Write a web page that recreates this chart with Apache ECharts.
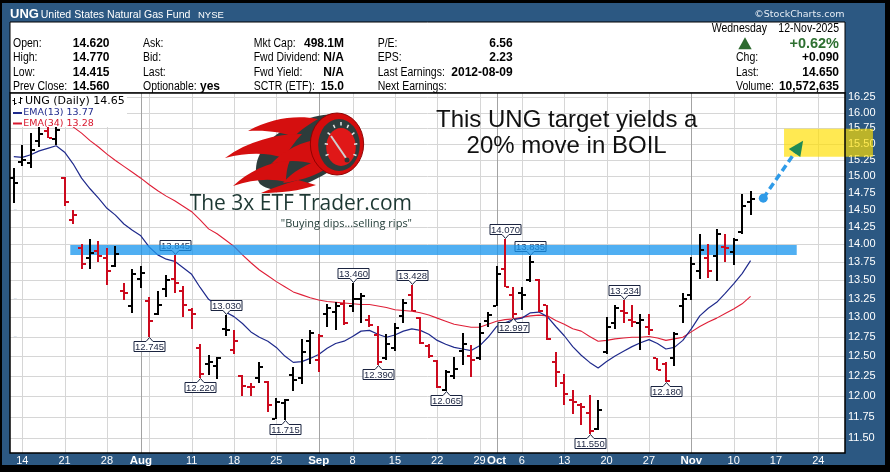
<!DOCTYPE html>
<html><head><meta charset="utf-8">
<script src="https://cdn.jsdelivr.net/npm/echarts@6/dist/echarts.min.js"></script>
<style>html,body{margin:0;padding:0;background:#000;}#c{width:890px;height:472px;}</style>
</head><body><div id="c"></div>
<script>
// ---------------- DATA ----------------
const dates = [
'07-11',
'07-14','07-15','07-16','07-17','07-18',
'07-21','07-22','07-23','07-24','07-25',
'07-28','07-29','07-30','07-31','08-01',
'08-04','08-05','08-06','08-07','08-08',
'08-11','08-12','08-13','08-14','08-15',
'08-18','08-19','08-20','08-21','08-22',
'08-25','08-26','08-27','08-28','08-29',
'09-02','09-03','09-04','09-05',
'09-08','09-09','09-10','09-11','09-12',
'09-15','09-16','09-17','09-18','09-19',
'09-22','09-23','09-24','09-25','09-26',
'09-29','09-30','10-01','10-02','10-03',
'10-06','10-07','10-08','10-09','10-10',
'10-13','10-14','10-15','10-16','10-17',
'10-20','10-21','10-22','10-23','10-24',
'10-27','10-28','10-29','10-30','10-31',
'11-03','11-04','11-05','11-06','11-07',
'11-10','11-11','11-12','11-13','11-14',
'11-17','11-18','11-19','11-20','11-21',
'11-24','11-25','11-26','11-28'];

const openP = [14.97,15.22,15.20,15.55,15.70,15.58,14.97,14.35,13.95,13.80,
13.90,13.80,13.70,13.35,13.15,13.52,13.22,13.05,13.38,13.52,
13.35,13.10,12.60,12.40,12.38,12.85,12.58,12.25,12.12,12.22,
12.17,11.73,11.92,12.26,12.22,12.69,12.45,13.05,13.07,13.18,
13.15,13.25,12.96,12.77,12.48,12.60,13.02,13.30,12.99,12.63,
12.44,12.08,12.25,12.56,12.50,12.47,12.95,13.15,13.65,13.30,
13.33,13.50,13.50,13.16,12.43,12.16,11.95,11.90,11.80,11.61,
12.55,12.92,13.09,12.96,12.93,12.88,12.47,12.40,12.47,13.15,
13.30,13.62,13.80,13.83,13.96,13.89,14.17,14.62];
const highP = [15.12,15.48,15.67,15.85,15.80,15.90,14.99,14.49,14.00,14.07,
14.05,13.95,13.97,13.46,13.66,13.69,13.27,13.35,13.57,13.845,
13.42,13.13,12.65,12.51,12.49,13.03,12.83,12.26,12.16,12.42,
12.19,11.98,11.97,12.36,12.72,12.83,12.78,13.18,13.21,13.23,
13.46,13.32,13.03,12.89,12.78,12.93,13.24,13.428,13.00,12.65,
12.45,12.32,12.49,12.79,12.64,12.92,13.07,13.70,14.07,13.41,
13.41,13.835,13.51,13.17,12.55,12.27,12.08,11.92,12.02,11.95,
13.00,13.16,13.234,13.17,13.05,13.05,12.48,12.43,12.81,13.32,
13.82,14.15,14.00,14.22,14.15,14.09,14.73,14.77];
const lowP = [14.60,15.15,15.12,15.45,15.59,15.48,14.55,14.29,13.66,13.66,
13.75,13.44,13.68,13.23,13.06,13.39,12.745,13.03,13.27,13.33,
13.00,12.85,12.22,12.26,12.21,12.76,12.53,12.00,12.00,12.16,
11.81,11.73,11.715,12.06,12.15,12.40,12.30,12.88,12.83,12.90,
13.07,12.93,12.87,12.39,12.45,12.57,12.93,13.08,12.65,12.47,
12.10,12.065,12.21,12.39,12.24,12.45,12.87,13.15,13.40,12.997,
13.10,13.47,13.07,12.70,12.11,11.90,11.79,11.66,11.55,11.60,
12.53,12.85,12.92,12.87,12.58,12.77,12.32,12.18,12.37,12.92,
13.23,13.52,13.53,13.49,13.75,13.71,14.15,14.415];
const closeP = [14.89,15.25,15.40,15.65,15.60,15.72,14.62,14.42,13.72,13.88,
13.84,13.62,13.86,13.32,13.58,13.60,12.95,13.16,13.50,13.46,
13.17,13.05,12.28,12.42,12.47,12.83,12.69,12.13,12.11,12.36,
11.89,11.93,11.95,12.20,12.55,12.80,12.76,13.12,13.15,12.93,
13.24,13.28,12.90,12.42,12.65,12.86,13.19,13.09,12.67,12.50,
12.11,12.30,12.34,12.66,12.45,12.79,13.03,13.58,13.41,13.05,
13.30,13.75,13.08,12.72,12.30,12.03,11.93,11.87,11.58,11.84,
12.88,13.12,13.06,12.94,12.96,12.84,12.33,12.19,12.78,13.25,
13.72,13.92,13.62,14.15,13.95,14.06,14.56,14.65];

const ema13 = [15.30,15.29,15.33,15.39,15.43,15.47,15.37,15.19,14.97,14.81,
14.67,14.52,14.42,14.29,14.20,14.12,13.96,13.85,13.79,13.76,
13.67,13.58,13.40,13.24,13.16,13.07,13.01,12.92,12.81,12.74,
12.69,12.61,12.50,12.42,12.43,12.47,12.52,12.60,12.66,12.69,
12.75,12.82,12.83,12.78,12.74,12.77,12.82,12.85,12.83,12.78,
12.70,12.65,12.61,12.59,12.57,12.63,12.74,12.88,12.93,12.97,
12.99,13.06,13.07,13.01,12.88,12.76,12.62,12.51,12.42,12.35,
12.43,12.50,12.56,12.62,12.67,12.71,12.66,12.59,12.61,12.70,
12.85,13.02,13.12,13.20,13.32,13.45,13.59,13.77];
const ema34 = [16.10,16.06,16.03,16.00,15.96,15.93,15.85,15.77,15.67,15.55,
15.45,15.34,15.24,15.15,15.06,14.97,14.87,14.78,14.70,14.63,
14.55,14.47,14.35,14.22,14.15,14.06,13.97,13.85,13.74,13.64,
13.56,13.48,13.41,13.34,13.30,13.26,13.23,13.21,13.20,13.19,
13.18,13.17,13.17,13.15,13.13,13.10,13.09,13.08,13.06,13.03,
12.99,12.95,12.91,12.89,12.87,12.87,12.91,12.95,12.97,12.98,
13.00,13.02,13.03,13.02,12.96,12.91,12.85,12.82,12.75,12.69,
12.70,12.72,12.73,12.74,12.74,12.75,12.73,12.70,12.72,12.74,
12.81,12.88,12.94,12.99,13.05,13.11,13.18,13.28];

const yTicks = [11.5,11.75,12,12.25,12.5,12.75,13,13.25,13.5,13.75,14,14.25,14.5,14.75,15,15.25,15.5,15.75,16,16.25];
const xTickDates = ['07-14','07-21','07-28','08-01','08-11','08-18','08-25','09-02','09-08','09-15','09-22','09-29','10-01','10-06','10-13','10-20','10-27','11-03','11-10','11-17','11-24'];
const xTickText  = ['14','21','28','Aug','11','18','25','Sep','8','15','22','29','Oct','6','13','20','27','Nov','10','17','24'];
const monthNames = ['Aug','Sep','Oct','Nov'];
const weekLineDates = ['07-14','07-21','07-28','08-04','08-11','08-18','08-25','09-08','09-15','09-22','09-29','10-06','10-13','10-20','10-27','11-10','11-17','11-24'];
const monthLineDates = ['08-01','09-02','10-01','11-03'];

const calloutDates  = ['08-04','08-07','08-12','08-15','08-26','09-08','09-11','09-17','09-23','10-02','10-03','10-07','10-16','10-22','10-29'];
const calloutValues = [12.745,13.845,12.220,13.030,11.715,13.460,12.390,13.428,12.065,14.070,12.997,13.835,11.550,13.234,12.180];
const calloutSide   = [-1,1,-1,1,-1,1,-1,1,-1,1,-1,1,-1,1,-1]; // 1 = high (box above), -1 = low (box below)

const supportBand = [13.85, 13.99];
const targetZone = [15.30, 15.74];
const arrowFrom = [88.5, 14.67];   // [bar index, price]
const arrowTo   = [93.2, 15.55];

// ---------------- SETUP ----------------
const X_MIN = -0.45, X_MAX = 98.15, Y_MIN = 11.33, Y_MAX = 16.32;
const idx = d => dates.indexOf(d);
const F_SANS = "'Liberation Sans', Arial, sans-serif";
const F_DV = "'DejaVu Sans', Verdana, sans-serif";
const xTickIdx = xTickDates.map(idx);

const chart = echarts.init(document.getElementById('c'), null, {renderer: 'canvas', width: 890, height: 472});

function T(x, y, text, font, fill, align, z, sx) {
  return {type: 'text', x: x, y: y, z: z || 60, silent: true, scaleX: sx || 1,
    style: {text: text, font: font, fill: fill || '#000', textAlign: align || 'left', textVerticalAlign: 'middle'}};
}

const LBL = "12.5px " + F_SANS, LSX = 0.84;
const VAL = "bold 12px " + F_SANS;
const rows = [43.5, 58, 72.5, 87];
const g = [];
// frame
g.push({type: 'rect', z: -10, shape: {x: 2, y: 3, width: 883, height: 462}, style: {fill: '#2c5882'}});
g.push({type: 'rect', z: -9, shape: {x: 10, y: 22, width: 835, height: 71}, style: {fill: '#fff', stroke: '#000', lineWidth: 1}});
g.push({type: 'rect', z: -9, shape: {x: 10, y: 93, width: 835, height: 360}, style: {fill: '#fff'}});
g.push({type: 'rect', z: 50, silent: true, shape: {x: 10, y: 93, width: 835, height: 360}, style: {fill: 'none', stroke: '#000', lineWidth: 1.5}});
// title
g.push(T(10, 14.5, 'UNG', "bold 13px " + F_SANS, '#fff'));
g.push(T(40.7, 14.5, 'United States Natural Gas Fund', "11px " + F_SANS, '#fff', 'left', 60, 0.96));
g.push(T(198, 15, 'NYSE', "9.5px " + F_SANS, '#fff'));
g.push(T(844.5, 15, '\u00A9StockCharts.com', "9.5px " + F_DV, '#e6edf5', 'right'));
// header stats
[['Open:', '14.620'], ['High:', '14.770'], ['Low:', '14.415'], ['Prev Close:', '14.560']].forEach((r, k) => {
  g.push(T(13, rows[k], r[0], LBL, '#000', 'left', 60, LSX)); g.push(T(109.5, rows[k], r[1], VAL, '#000', 'right'));
});
['Ask:', 'Bid:', 'Last:', 'Optionable:'].forEach((s, k) => g.push(T(143, rows[k], s, LBL, '#000', 'left', 60, LSX)));
g.push(T(200, rows[3], 'yes', VAL));
[['Mkt Cap:', '498.1M'], ['Fwd Dividend:', 'N/A'], ['Fwd Yield:', 'N/A'], ['SCTR (ETF):', '15.0']].forEach((r, k) => {
  g.push(T(253.7, rows[k], r[0], LBL, '#000', 'left', 60, LSX)); g.push(T(344, rows[k], r[1], VAL, '#000', 'right'));
});
[['P/E:', '6.56'], ['EPS:', '2.23'], ['Last Earnings:', '2012-08-09'], ['Next Earnings:', '']].forEach((r, k) => {
  g.push(T(377.7, rows[k], r[0], LBL, '#000', 'left', 60, LSX)); if (r[1]) g.push(T(512.7, rows[k], r[1], VAL, '#000', 'right'));
});
g.push(T(711.7, 29, 'Wednesday', LBL, '#000', 'left', 60, LSX));
g.push(T(839, 29, '12-Nov-2025', LBL, '#000', 'right', 60, LSX));
g.push({type: 'polygon', z: 60, shape: {points: [[738.3, 49.3], [751.7, 49.3], [745, 37.3]]}, style: {fill: '#2d6a2f'}});
g.push(T(839, 43.5, '+0.62%', "bold 14.5px " + F_SANS, '#2e7031', 'right'));
[['Chg:', '+0.090'], ['Last:', '14.650'], ['Volume:', '10,572,635']].forEach((r, k) => {
  g.push(T(736, rows[k + 1], r[0], LBL, '#000', 'left', 60, LSX)); g.push(T(839, rows[k + 1], r[1], VAL, '#000', 'right'));
});
// legend
g.push({type: 'rect', z: 30, silent: true, shape: {x: 11, y: 94, width: 116, height: 33}, style: {fill: '#fff'}});
[[14.5, 98, 14.5, 105], [12.5, 100.5, 14.5, 100.5], [14.5, 103.5, 16.5, 103.5], [20.5, 97, 20.5, 104], [18.5, 102.5, 20.5, 102.5], [20.5, 98.5, 22.5, 98.5]].forEach(s =>
  g.push({type: 'line', z: 31, shape: {x1: s[0], y1: s[1], x2: s[2], y2: s[3]}, style: {stroke: '#000', lineWidth: 1}}));
g.push(T(25, 101.5, 'UNG (Daily) 14.65', "11px " + F_DV, '#000', 'left', 31));
g.push({type: 'line', z: 31, shape: {x1: 13, y1: 113, x2: 22, y2: 113}, style: {stroke: '#1f2a8c', lineWidth: 2}});
g.push(T(23.3, 113, 'EMA(13) 13.77', "9.5px " + F_DV, '#1f2a8c', 'left', 31));
g.push({type: 'line', z: 31, shape: {x1: 13, y1: 123.5, x2: 22, y2: 123.5}, style: {stroke: '#d8182e', lineWidth: 2}});
g.push(T(23.3, 123.5, 'EMA(34) 13.28', "9.5px " + F_DV, '#d8182e', 'left', 31));
// logo text
g.push(T(412, 204.5, 'The 3x ETF Trader.com', "21px 'Open Sans', " + F_SANS, '#1d3833', 'right', 25));
g.push(T(412, 223.5, '"Buying dips...selling rips"', "11px 'Open Sans', " + F_SANS, '#1d3833', 'right', 25));
// commentary
g.push(T(566.7, 120, 'This UNG target yields a', "24px " + F_SANS, '#111', 'center', 26));
g.push(T(566.6, 146.7, '20% move in BOIL', "24px " + F_SANS, '#111', 'center', 26));

// logo artwork (pixel drawing, not data)
function logoElements() {
  const dark = '#2d3c3b', red = '#d50f0f', els = [];
  els.push({type: 'path', shape: {pathData: 'M338,114 C312,114 288,124 270,140 C256,154 252,172 260,184 C270,193 292,191 312,181 C330,172 350,160 358,146 Z'}, style: {fill: dark}});
  ['M318,119 C296,115 272,118 248,131 C266,130 282,132 294,137 C299,131 308,125 318,119 Z',
   'M302,134 C276,134 248,141 225,158 C249,152 268,153 284,158 C289,150 295,141 302,134 Z',
   'M290,160 C268,162 248,172 233,186 C253,179 271,178 286,182 C286,174 287,167 290,160 Z',
   'M298,180 C284,184 272,188 261,193 C280,193 300,191 316,185 Z',
   'M322,139 C302,141 284,150 271,164 C285,160 300,160 314,164 Z',
   'M324,158 C306,164 292,172 283,183 C298,181 312,177 324,170 Z'].forEach(p =>
    els.push({type: 'path', shape: {pathData: p}, style: {fill: red}}));
  els.push({type: 'circle', x: 337, y: 144, scaleX: 0.86, shape: {cx: 0, cy: 0, r: 31}, style: {fill: '#d40c0c', stroke: '#8a0000', lineWidth: 1}});
  els.push({type: 'circle', x: 339, y: 145, scaleX: 0.8, shape: {cx: 0, cy: 0, r: 26}, style: {fill: dark}});
  els.push({type: 'circle', x: 341, y: 147, scaleX: 0.78, shape: {cx: 0, cy: 0, r: 19}, style: {fill: '#e01818'}});
  for (let a = -200; a <= 20; a += 27.5) {
    const r = a * Math.PI / 180;
    els.push({type: 'line', shape: {x1: 341 + Math.cos(r) * 16.5 * 0.8, y1: 147 + Math.sin(r) * 21.5, x2: 341 + Math.cos(r) * 20.5 * 0.8, y2: 147 + Math.sin(r) * 25}, style: {stroke: '#e8e8e8', lineWidth: 1.5}});
  }
  els.push({type: 'line', shape: {x1: 331, y1: 136, x2: 346, y2: 158}, style: {stroke: '#cfcfcf', lineWidth: 2}});
  els.push({type: 'circle', shape: {cx: 347, cy: 160, r: 2.5}, style: {fill: '#333'}});
  return els;
}

// gridline specs: [x, y, kind(0=horizontal,1=vertical), dark]
const gridData = [];
yTicks.forEach(v => gridData.push([X_MIN, v, 0, 0]));
weekLineDates.forEach(d => gridData.push([idx(d), Y_MIN, 1, 0]));
monthLineDates.forEach(d => gridData.push([idx(d), Y_MIN, 1, 1]));

const option = {
  backgroundColor: '#000',
  animation: false,
  textStyle: {fontFamily: F_SANS},
  grid: {left: 10, right: 45, top: 93, bottom: 19, containLabel: false, outerBoundsMode: 'none'},
  xAxis: {
    type: 'value', min: X_MIN, max: X_MAX,
    axisLine: {show: false}, axisTick: {show: false}, splitLine: {show: false},
    axisLabel: {
      customValues: xTickIdx, margin: 2, color: '#fff', fontSize: 11, fontFamily: F_SANS,
      formatter: v => { const k = xTickIdx.indexOf(Math.round(v)); const t = k >= 0 ? xTickText[k] : ''; return monthNames.indexOf(t) >= 0 ? '{m|' + t + '}' : t; },
      rich: {m: {fontWeight: 'bold', fontSize: 11.5, color: '#fff', fontFamily: F_SANS}}
    }
  },
  yAxis: {
    type: 'log', logBase: 10, min: Y_MIN, max: Y_MAX, position: 'right',
    axisLine: {show: false}, splitLine: {show: false},
    axisTick: {show: true, customValues: yTicks, length: 3, lineStyle: {color: '#dfe6ee'}},
    axisLabel: {customValues: yTicks, formatter: v => Number(v).toFixed(2), color: '#fff', fontSize: 11, margin: 3, fontFamily: F_SANS}
  },
  graphic: {elements: g},
  series: [
    { // gridlines
      type: 'custom', z: 1, silent: true, clip: true,
      data: gridData, encode: {x: 0, y: 1},
      renderItem: (p, api) => {
        const kind = api.value(2), dk = api.value(3);
        let a, b;
        if (kind === 0) { a = api.coord([X_MIN, api.value(1)]); b = api.coord([X_MAX, api.value(1)]); const y = Math.round(a[1]) + 0.5; a[1] = y; b[1] = y; }
        else { a = api.coord([api.value(0), Y_MAX]); b = api.coord([api.value(0), Y_MIN]); const x = Math.round(a[0]) + 0.5; a[0] = x; b[0] = x; }
        return {type: 'line', shape: {x1: a[0], y1: a[1], x2: b[0], y2: b[1]}, style: {stroke: dk ? '#a3a3a3' : '#d6d6d6', lineWidth: 1}};
      }
    },
    {
      type: 'line', z: 3, name: 'EMA(34)', data: ema34.map((v, i) => [i, v]), showSymbol: false, silent: true,
      lineStyle: {color: '#df1f37', width: 1.1}
    },
    {
      type: 'line', z: 3, name: 'EMA(13)', data: ema13.map((v, i) => [i, v]), showSymbol: false, silent: true,
      lineStyle: {color: '#1f2a8c', width: 1.2}
    },
    { // high / low callouts
      type: 'custom', z: 4, silent: true, clip: false,
      data: calloutDates.map((d, k) => [idx(d), calloutValues[k], calloutSide[k]]),
      encode: {x: 0, y: 1},
      renderItem: (p, api) => {
        const v = api.value(1), side = api.value(2);
        const pt = api.coord([api.value(0), v]);
        const x = Math.round(pt[0]) + 0.5, w = 31, h = 10, ph = 4;
        let pts, ty;
        if (side > 0) {
          const tip = Math.round(pt[1]) - 0.5, yb = tip - ph, yt = yb - h;
          pts = [[x - w / 2, yt], [x + w / 2, yt], [x + w / 2, yb], [x + 3.5, yb], [x, tip], [x - 3.5, yb], [x - w / 2, yb]];
          ty = (yt + yb) / 2 + 0.5;
        } else {
          const tip = Math.round(pt[1]) + 0.5, yt = tip + ph, yb = yt + h;
          pts = [[x - w / 2, yt], [x - 3.5, yt], [x, tip], [x + 3.5, yt], [x + w / 2, yt], [x + w / 2, yb], [x - w / 2, yb]];
          ty = (yt + yb) / 2 + 0.5;
        }
        return {type: 'group', children: [
          {type: 'polygon', shape: {points: pts}, style: {fill: '#fff', stroke: '#1b2440', lineWidth: 1}},
          {type: 'text', x: x, y: ty, style: {text: v.toFixed(3), font: "9.5px " + F_SANS, fill: '#1b2440', textAlign: 'center', textVerticalAlign: 'middle'}}
        ]};
      }
    },
    { // support band (under the price bars)
      type: 'custom', z: 5, silent: true, clip: false,
      data: [[0, supportBand[0]]], encode: {x: 0, y: 1},
      renderItem: (p, api) => {
        const a = api.coord([6.67, supportBand[1]]), b = api.coord([92.45, supportBand[0]]);
        return {type: 'rect', shape: {x: a[0], y: a[1], width: b[0] - a[0], height: b[1] - a[1]}, style: {fill: 'rgba(25,150,238,0.76)'}};
      }
    },
    { // OHLC bars
      type: 'custom', z: 6, silent: true, clip: true,
      data: closeP.map((c, i) => [i, openP[i], highP[i], lowP[i], c]),
      encode: {x: 0, y: [1, 2, 3, 4]},
      renderItem: (p, api) => {
        const i = api.value(0);
        const col = (i === 0 || closeP[i] >= closeP[i - 1]) ? '#000' : '#cc0a1e';
        const pH = api.coord([i, api.value(2)]), pL = api.coord([i, api.value(3)]);
        const pO = api.coord([i, api.value(1)]), pC = api.coord([i, api.value(4)]);
        const x = Math.round(pH[0]);
        const yt = Math.round(pH[1]), yb = Math.round(pL[1]);
        return {type: 'group', children: [
          {type: 'rect', shape: {x: x - 1, y: yt, width: 2, height: Math.max(1, yb - yt)}, style: {fill: col}},
          {type: 'rect', shape: {x: x - 4, y: Math.round(pO[1]) - 1, width: 3, height: 2}, style: {fill: col}},
          {type: 'rect', shape: {x: x + 1, y: Math.round(pC[1]) - 1, width: 3, height: 2}, style: {fill: col}}
        ]};
      }
    },
    { // logo artwork
      type: 'custom', z: 25, silent: true, clip: false,
      data: [[0, 13]], encode: {x: 0, y: 1},
      renderItem: () => ({type: 'group', children: logoElements()})
    },
    { // target zone and arrow
      type: 'custom', z: 45, silent: true, clip: false,
      data: [[90, targetZone[0]]], encode: {x: 0, y: 1},
      renderItem: (p, api) => {
        const a = api.coord([90.95, targetZone[1]]), b = api.coord([101.45, targetZone[0]]);
        const p0 = api.coord(arrowFrom), p1 = api.coord(arrowTo);
        const dx = p1[0] - p0[0], dy = p1[1] - p0[1], L = Math.sqrt(dx * dx + dy * dy);
        const ux = dx / L, uy = dy / L, hl = 15, hw = 7;
        const bx = p1[0] - ux * hl, by = p1[1] - uy * hl;
        return {type: 'group', children: [
          {type: 'rect', shape: {x: a[0], y: a[1], width: b[0] - a[0], height: b[1] - a[1]}, style: {fill: 'rgba(255,222,0,0.68)'}},
          {type: 'line', shape: {x1: p0[0], y1: p0[1], x2: bx + ux * 2, y2: by + uy * 2}, style: {stroke: '#2f9be8', lineWidth: 3.5, lineDash: [7, 4]}},
          {type: 'circle', shape: {cx: p0[0], cy: p0[1], r: 4.5}, style: {fill: '#2f9be8'}},
          {type: 'polygon', shape: {points: [[p1[0], p1[1]], [bx - uy * hw, by + ux * hw], [bx + uy * hw, by - ux * hw]]}, style: {fill: '#1f8a55'}}
        ]};
      }
    }
  ]
};
chart.setOption(option);
</script>
</body></html>
